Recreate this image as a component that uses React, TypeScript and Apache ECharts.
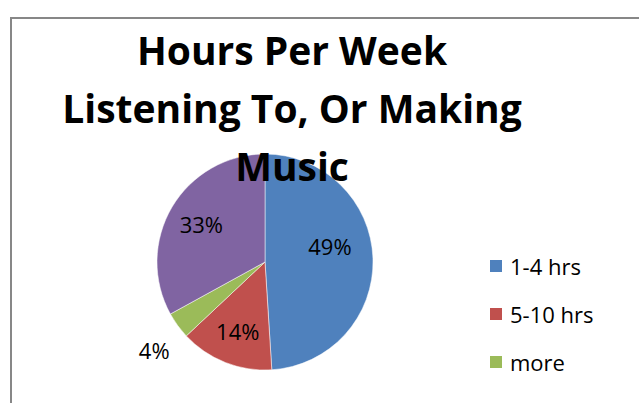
import React, { useEffect, useRef } from "react";
import * as echarts from "echarts";

const categories = ["1-4 hrs", "5-10 hrs", "more", "other"];
const values = [49, 14, 4, 33];
const legendNames = ["1-4 hrs", "5-10 hrs", "more"];
const colors = ["#4F81BD", "#C0504D", "#9BBB59", "#8064A2"];
const titleText = "Hours Per Week\nListening To, Or Making\nMusic";

const FONT = "Open Sans";

export default function App() {
  const ref = useRef<HTMLDivElement>(null);
  useEffect(() => {
    document.body.style.margin = "0";
    const chart = echarts.init(ref.current!, null, { renderer: "svg" });
    const mainData = categories.map((name, i) => ({
      name,
      value: values[i],
      itemStyle: { color: colors[i] },
      label:
        name === "more"
          ? { show: true, position: "outside" }
          : { show: false },
      labelLine:
        name === "more"
          ? { show: true, length: 21, length2: 0, lineStyle: { opacity: 0 } }
          : { show: false },
    }));
    const labelData = categories.map((name, i) => ({
      name,
      value: values[i],
      itemStyle: { color: "rgba(0,0,0,0)" },
      label: { show: name !== "more" },
    }));
    chart.setOption({
      animation: false,
      backgroundColor: "#ffffff",
      color: colors,
      title: {
        text: titleText,
        left: 287,
        top: 15,
        textAlign: "center",
        textStyle: {
          fontFamily: FONT,
          fontSize: 39,
          fontWeight: "bold",
          lineHeight: 58,
          color: "#000",
        },
      },
      legend: {
        orient: "vertical",
        left: 488,
        top: 255,
        padding: 0,
        itemWidth: 14,
        itemHeight: 14,
        itemGap: 26,
        data: legendNames,
        icon: "rect",
        textStyle: {
          fontFamily: FONT,
          fontSize: 22,
          color: "#000",
          padding: [0, 0, 0, 2],
        },
      },
      graphic: [
        {
          type: "rect",
          shape: { x: 11, y: 18, width: 800, height: 600 },
          style: { fill: "none", stroke: "#878787", lineWidth: 2 },
          silent: true,
          z: -1,
        },
      ],
      series: [
        {
          type: "pie",
          center: [265, 262],
          radius: [0, 108],
          startAngle: 90,
          clockwise: true,
          silent: true,
          data: mainData,
          label: {
            formatter: "{d}%",
            fontFamily: FONT,
            fontSize: 22,
            color: "#000",
          },
          itemStyle: { borderColor: "#ffffff", borderWidth: 0.5 },
          labelLayout: (p: any) =>
            p.dataIndex === 2 ? { dx: 14, dy: 12 } : {},
        },
        {
          type: "pie",
          center: [265, 262],
          radius: [0, 142],
          startAngle: 90,
          clockwise: true,
          silent: true,
          data: labelData,
          label: {
            position: "inside",
            formatter: "{d}%",
            fontFamily: FONT,
            fontSize: 22,
            color: "#000",
          },
          labelLine: { show: false },
          labelLayout: (p: any) =>
            p.dataIndex === 0 ? { dx: -9, dy: -14 } : {},
        },
      ],
    });
    return () => chart.dispose();
  }, []);
  return (
    <div
      ref={ref}
      style={{ position: "fixed", left: 0, top: 0, width: 639, height: 403 }}
    />
  );
}
